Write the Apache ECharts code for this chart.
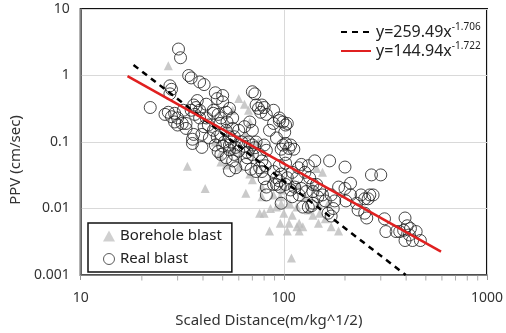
<!DOCTYPE html>
<html>
<head>
<meta charset="utf-8">
<script src="https://cdn.jsdelivr.net/npm/echarts@6/dist/echarts.min.js"></script>
<style>
html, body { margin: 0; padding: 0; background: #fff; }
#chart { width: 506px; height: 333px; }
</style>
</head>
<body>
<div id="chart"></div>
<script>
// scaled distance, PPV
var boreholeBlast = [
  [27, 1.4], [33.5, 0.043], [41, 0.02], [65, 0.017], [109, 0.0018], [64, 0.37], [67, 0.3], [68, 0.2],
  [56, 0.3], [49, 0.05], [52, 0.045], [60, 0.042], [68, 0.033], [70, 0.027], [76, 0.0085], [80, 0.0085],
  [86, 0.01], [85, 0.0046], [92, 0.0105], [96, 0.006], [100, 0.0085], [104, 0.0046], [106, 0.006],
  [110, 0.0079], [116, 0.0053], [119, 0.006], [119, 0.0046], [124, 0.0053], [97, 0.0118], [107, 0.0118],
  [116, 0.0105], [132, 0.0095], [139, 0.0079], [148, 0.006], [150, 0.0085], [160, 0.007], [186, 0.0046],
  [137, 0.023], [145, 0.04], [155, 0.035], [89, 0.016], [78, 0.015], [96, 0.015], [110, 0.023],
  [118, 0.023], [127, 0.015], [98, 0.019], [46, 0.1], [48.5, 0.065], [56, 0.072], [60, 0.058],
  [65, 0.13], [53, 0.18], [70, 0.09], [75, 0.1], [78, 0.021], [148, 0.0118], [165, 0.0118],
  [171, 0.0053], [60, 0.45]
];

var realBlast = [
  [30.3, 2.5], [31, 1.85], [22, 0.33], [27.5, 0.7], [28, 0.62], [27.5, 0.53], [34, 1.0], [35, 0.92],
  [38.5, 0.8], [40.5, 0.73], [46, 0.55], [50, 0.5], [27, 0.28], [29, 0.27], [28, 0.24], [30, 0.23],
  [29, 0.2], [30, 0.18], [31.6, 0.19], [33, 0.19], [36, 0.36], [37, 0.33], [35, 0.3], [38.5, 0.3],
  [36.5, 0.26], [36, 0.13], [35.5, 0.11], [35.5, 0.095], [39.5, 0.13], [41.5, 0.23], [33, 0.16], [26, 0.26],
  [47, 0.45], [50, 0.4], [45, 0.3], [47.5, 0.26], [52, 0.28], [54, 0.32], [56, 0.23], [48.5, 0.19],
  [45, 0.15], [47, 0.12], [49, 0.13], [52, 0.15], [56, 0.16], [54, 0.12], [57, 0.12], [60, 0.15],
  [62, 0.1], [47.5, 0.072], [50, 0.087], [54, 0.076], [57, 0.065], [60, 0.073], [52, 0.058], [56, 0.052],
  [54, 0.037], [58, 0.041], [65, 0.046], [69, 0.039], [43, 0.115], [42.5, 0.18], [46, 0.09], [49, 0.065],
  [60, 0.09], [67, 0.1], [70, 0.09], [64, 0.17], [68, 0.2], [70, 0.57], [72, 0.53], [73, 0.36],
  [75, 0.32], [80, 0.33], [77, 0.28], [82, 0.26], [89, 0.19], [95, 0.23], [99, 0.2], [102, 0.18],
  [101, 0.14], [92, 0.115],
  [72, 0.082], [76, 0.065], [80, 0.09], [82, 0.075], [78, 0.052], [81, 0.044], [76, 0.041], [73, 0.036],
  [89, 0.036], [95, 0.044], [102, 0.048], [97, 0.078], [106, 0.08], [112, 0.078], [102, 0.065], [92, 0.029],
  [97, 0.033], [104, 0.029], [110, 0.035], [116, 0.029], [118, 0.041], [122, 0.046], [127, 0.035],
  [134, 0.029], [139, 0.023], [92, 0.023], [96, 0.021], [102, 0.023], [108, 0.019], [113, 0.021],
  [122, 0.02], [129, 0.018], [82, 0.016], [97, 0.012], [110, 0.015], [119, 0.016], [142, 0.052],
  [132, 0.044], [139, 0.018], [147, 0.015], [150, 0.019], [124, 0.0105], [132, 0.0105], [137, 0.011],
  [139, 0.012], [165, 0.0085], [171, 0.0077], [155, 0.016], [145, 0.023], [102, 0.095], [108, 0.09],
  [99, 0.09], [85, 0.15],
  [78, 0.36], [89, 0.3], [95, 0.21], [104, 0.19], [70, 0.15], [73, 0.1], [66, 0.07], [66, 0.058],
  [200, 0.042], [213, 0.024], [186, 0.021], [200, 0.02], [171, 0.016], [178, 0.013], [202, 0.013],
  [213, 0.016], [228, 0.012], [232, 0.0095], [250, 0.014], [250, 0.0085], [265, 0.016], [270, 0.032],
  [300, 0.032], [260, 0.014], [275, 0.016], [240, 0.016], [256, 0.0072], [313, 0.007], [318, 0.0045],
  [357, 0.0045], [372, 0.0045], [395, 0.0072], [405, 0.0055], [389, 0.0047], [420, 0.005], [395, 0.0033],
  [430, 0.0033], [448, 0.0045], [470, 0.0033], [415, 0.004], [168, 0.052], [160, 0.013], [175, 0.01],
  [38.5, 0.23], [40.5, 0.17], [32, 0.3], [37.5, 0.42], [41.5, 0.37], [45, 0.27], [49, 0.23], [52.5, 0.2],
  [39.5, 0.083], [55, 0.1], [58, 0.083], [54, 0.09], [51, 0.1], [64, 0.086], [70, 0.065], [78, 0.036],
  [80, 0.028], [82, 0.021], [89, 0.023], [95, 0.026]
];

// fitted lines, end points as drawn
var fitBorehole = [[18.2, 1.44], [398, 0.001]];
var fitReal = [[17, 0.98], [594, 0.00224]];

var fitBoreholeName = 'y=259.49x-1.706';
var fitRealName = 'y=144.94x-1.722';

var xMinorTicks = [20, 30, 40, 50, 60, 70, 80, 90, 200, 300, 400, 500, 600, 700, 800, 900];

var FONT = 'Noto Sans';
var noSymbol = { color: 'rgba(0,0,0,0)', borderColor: 'rgba(0,0,0,0)', borderWidth: 0 };

var myChart = echarts.init(document.getElementById('chart'));

var option = {
  animation: false,
  textStyle: { fontFamily: FONT },
  grid: {
    left: 78, right: 13, top: 9, bottom: 55,
    show: true,
    borderColor: '#111',
    borderWidth: 2
  },
  xAxis: {
    type: 'log',
    min: 10,
    max: 1000,
    logBase: 10,
    name: 'Scaled Distance(m/kg^1/2)',
    nameLocation: 'middle',
    nameGap: 38,
    nameTextStyle: { fontSize: 15, color: '#333', fontFamily: FONT, padding: [0, 30, 0, 0] },
    axisLine: { lineStyle: { color: '#666', width: 1.5 } },
    axisTick: { show: true, length: 5, lineStyle: { color: '#999' } },
    axisLabel: {
      fontSize: 14, color: '#333', margin: 16,
      formatter: function (v) { return String(Math.round(v)); }
    },
    splitLine: { show: true, lineStyle: { color: '#d9d9d9' } }
  },
  yAxis: {
    type: 'log',
    min: 0.001,
    max: 10,
    logBase: 10,
    name: 'PPV (cm/sec)',
    nameLocation: 'middle',
    nameGap: 50,
    nameTextStyle: { fontSize: 15, color: '#333', fontFamily: FONT, padding: [0, 36, 0, 0] },
    axisLine: { lineStyle: { color: '#666', width: 1.5 } },
    axisTick: { show: false },
    axisLabel: {
      fontSize: 14, color: '#333', margin: 11, padding: [0, 0, 6, 0],
      formatter: function (v) { return String(+v.toPrecision(3)); }
    },
    splitLine: { show: true, lineStyle: { color: '#d9d9d9' } }
  },
  legend: [
    {
      data: [
        { name: 'Borehole blast', itemStyle: { color: '#c4c4c4' } },
        { name: 'Real blast', itemStyle: { color: 'rgba(0,0,0,0)', borderColor: '#333', borderWidth: 1 } }
      ],
      orient: 'vertical',
      left: 88,
      top: 223,
      padding: [3, 10, 3, 15],
      itemGap: 3,
      itemWidth: 12,
      itemHeight: 11,
      borderColor: '#111',
      borderWidth: 1.5,
      textStyle: { fontSize: 15, color: '#222', lineHeight: 20, fontFamily: FONT }
    },
    {
      data: [
        { name: fitBoreholeName, itemStyle: noSymbol },
        { name: fitRealName, itemStyle: noSymbol }
      ],
      orient: 'vertical',
      left: 340,
      top: 22,
      padding: 0,
      itemGap: 1,
      itemWidth: 30,
      itemHeight: 14,
      formatter: function (name) {
        var base = name.slice(0, name.indexOf('-'));
        var pow = name.slice(name.indexOf('-'));
        return '{t|' + base + '}{s|' + pow + '}';
      },
      textStyle: {
        rich: {
          t: { fontSize: 16, color: '#222', lineHeight: 20, fontFamily: FONT },
          s: { fontSize: 10, color: '#222', verticalAlign: 'top', lineHeight: 12, fontFamily: FONT }
        }
      }
    }
  ],
  series: [
    {
      name: 'Borehole blast',
      type: 'scatter',
      symbol: 'triangle',
      symbolSize: 9,
      itemStyle: { color: '#bdbdbd' },
      data: boreholeBlast,
      z: 2
    },
    {
      name: 'Real blast',
      type: 'scatter',
      symbol: 'circle',
      symbolSize: 12,
      itemStyle: { color: 'rgba(0,0,0,0)', borderColor: '#1a1a1a', borderWidth: 1 },
      data: realBlast,
      z: 3
    },
    {
      name: fitBoreholeName,
      type: 'line',
      symbol: 'none',
      lineStyle: { color: '#000', width: 2.5, type: [6, 5] },
      itemStyle: { color: '#000' },
      data: fitBorehole,
      z: 4
    },
    {
      name: fitRealName,
      type: 'line',
      symbol: 'none',
      lineStyle: { color: '#e02020', width: 2.5 },
      itemStyle: { color: '#e02020' },
      data: fitReal,
      z: 5
    },
    {
      name: 'minor ticks',
      type: 'scatter',
      symbol: 'rect',
      symbolSize: [1, 5],
      symbolOffset: [0, 3],
      clip: false,
      silent: true,
      itemStyle: { color: '#999' },
      data: xMinorTicks.map(function (x) { return [x, 0.001]; }),
      z: 1
    }
  ]
};

myChart.setOption(option);
</script>
</body>
</html>
